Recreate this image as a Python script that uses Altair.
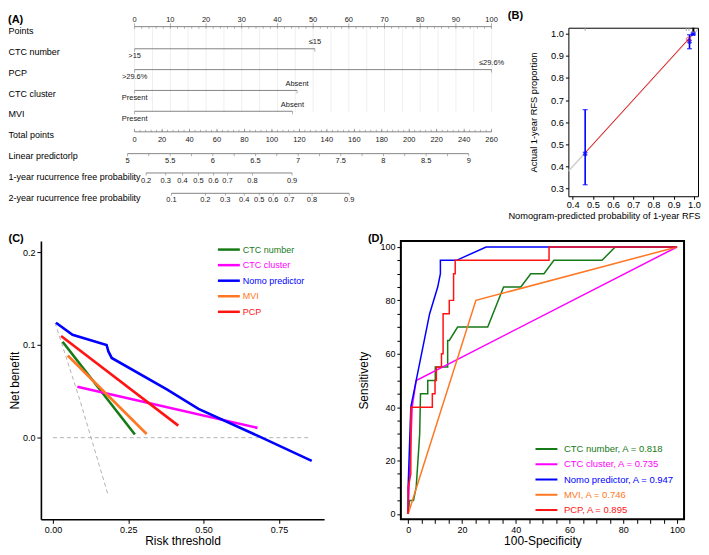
import altair as alt
import pandas as pd

FONT = "Liberation Sans"
NARROW = "Liberation Sans Narrow, Liberation Sans"
NOMO_INK = "#767676"

# ======================= (A) nomogram =======================
nomo_rows = ["Points", "CTC number", "PCP", "CTC cluster", "MVI", "Total points",
             "Linear predictorlp", "1-year rucurrence free probability",
             "2-year rucurrence free probability"]
points_label_values = [0, 10, 20, 30, 40, 50, 60, 70, 80, 90, 100]
points_minor_values = list(range(0, 101, 2))
points_grid_values = list(range(0, 101, 5))

var_rows = ["CTC number", "PCP", "CTC cluster", "MVI"]
var_max_points = [50.5, 100.0, 45.5, 44.2]
var_low_text = [">15", ">29.6%", "Present", "Present"]
var_high_text = ["≤15", "≤29.6%", "Absent", "Absent"]

total_label_values = list(range(0, 261, 20))
total_minor_values = list(range(0, 261, 4))
total_points_max = 260

lp_label_values = [5, 5.5, 6, 6.5, 7, 7.5, 8, 8.5, 9]
lp_minor_values = [5, 5.25, 5.5, 5.75, 6, 6.25, 6.5, 6.75, 7, 7.25, 7.5, 7.75, 8,
                   8.25, 8.5, 8.75, 9]
lp_ends = [5, 9]
lp_ends_points = [-2.0, 93.6]

p1_values = [0.2, 0.3, 0.4, 0.5, 0.6, 0.7, 0.8, 0.9]
p1_points = [3.2, 8.7, 13.4, 17.9, 22.1, 26.0, 33.0, 44.1]
p2_values = [0.1, 0.2, 0.3, 0.4, 0.5, 0.6, 0.7, 0.8, 0.9]
p2_points = [10.3, 19.8, 25.4, 30.7, 34.9, 38.8, 43.3, 49.7, 60.1]


def total_to_points(v):
    return v * 100.0 / total_points_max


def lp_to_points(v):
    a, b = lp_ends_points
    return a + (v - lp_ends[0]) * (b - a) / (lp_ends[1] - lp_ends[0])


XS_A = alt.Scale(domain=[-26.26, 100], nice=False, zero=False)
YS_A = alt.Scale(type="point", domain=nomo_rows, padding=0.14)
Y_A = alt.Y("row:N", scale=YS_A, sort=nomo_rows,
            axis=alt.Axis(title=None, domain=False, ticks=False, labelAlign="left",
                          labelPadding=33, labelFontSize=9, labelColor="black",
                          labelLimit=300, labelFont=FONT))


def xa(field):
    return alt.X(f"{field}:Q", scale=XS_A, axis=None)


def a_line(rows, x0, x1, off):
    df = pd.DataFrame({"row": rows, "x0": x0, "x1": x1})
    return alt.Chart(df).mark_rule(color=NOMO_INK, strokeWidth=0.9, yOffset=off).encode(
        x=xa("x0"), x2="x1", y=Y_A)


def a_ticks(rows, xs, size, off):
    df = pd.DataFrame({"row": rows, "x": xs})
    return alt.Chart(df).mark_tick(color=NOMO_INK, size=size, thickness=0.8, yOffset=off).encode(
        x=xa("x"), y=Y_A)


def a_text(rows, xs, texts, off, size=7.5):
    df = pd.DataFrame({"row": rows, "x": xs, "t": texts})
    return alt.Chart(df).mark_text(fontSize=size, color="#1a1a1a", yOffset=off, font=NARROW).encode(
        x=xa("x"), y=Y_A, text="t:N")


a_layers = []
grid_df = pd.DataFrame({"row": "Points", "row2": "MVI", "x": points_grid_values})
a_layers.append(alt.Chart(grid_df).mark_rule(color="#e6e6e6", strokeWidth=0.7, yOffset=-4,
                                             y2Offset=-2).encode(x=xa("x"), y=Y_A, y2="row2"))
# points scale
a_layers.append(a_line(["Points"], [0], [100], -4))
a_layers.append(a_ticks("Points", points_minor_values, 2, -3))
a_layers.append(a_ticks("Points", points_label_values, 3.5, -5.75))
a_layers.append(a_text("Points", points_label_values, [str(v) for v in points_label_values], -11))
# predictors
a_layers.append(a_line(var_rows, [0] * 4, var_max_points, -2.7))
a_layers.append(a_ticks(var_rows, [0] * 4, 3, -1.2))
a_layers.append(a_ticks(var_rows, var_max_points, 3, -1.2))
a_layers.append(a_text(var_rows, [0] * 4, var_low_text, 5))
a_layers.append(a_text(var_rows, var_max_points, var_high_text, -9))
# total points
a_layers.append(a_line(["Total points"], [0], [100], -3))
a_layers.append(a_ticks("Total points", [total_to_points(v) for v in total_minor_values], 2, -4))
a_layers.append(a_ticks("Total points", [total_to_points(v) for v in total_label_values], 3, -4.5))
a_layers.append(a_text("Total points", [total_to_points(v) for v in total_label_values],
                       [str(v) for v in total_label_values], 5))
# linear predictor
a_layers.append(a_line(["Linear predictorlp"], [lp_to_points(5)], [lp_to_points(9)], -2))
a_layers.append(a_ticks("Linear predictorlp", [lp_to_points(v) for v in lp_minor_values], 2.5, -0.75))
a_layers.append(a_text("Linear predictorlp", [lp_to_points(v) for v in lp_label_values],
                       [f"{v:g}" for v in lp_label_values], 5))
# 1-year
r1 = "1-year rucurrence free probability"
a_layers.append(a_line([r1], [p1_points[0]], [p1_points[-1]], -3.5))
a_layers.append(a_ticks(r1, p1_points, 2.5, -2.25))
a_layers.append(a_text(r1, p1_points, [f"{v:g}" for v in p1_values], 5))
# 2-year
r2 = "2-year rucurrence free probability"
a_layers.append(a_line([r2], [p2_points[0]], [p2_points[-1]], -4))
a_layers.append(a_ticks(r2, p2_points, 2.5, -2.75))
a_layers.append(a_text(r2, p2_points, [f"{v:g}" for v in p2_values], 2.5))

panel_a = alt.layer(*a_layers).properties(
    width=452, height=173,
    title=alt.TitleParams("(A)", anchor="start", fontSize=11, fontWeight="bold", font=FONT,
                          offset=-9.5, color="black"))

# ======================= (B) calibration =======================
cal_pred = [0.462, 0.978, 0.996]
cal_obs = [0.458, 0.965, 1.0]
cal_lo = [0.318, 0.932, 0.994]
cal_hi = [0.657, 0.995, 1.0]
cal_line_x = [0.462, 0.972, 0.996]
cal_line_y = [0.462, 0.975, 1.0]
cal_circle_x = [0.972]
cal_circle_y = [0.975]
rug_gray = [0.462, 0.962, 0.975]
rug_dark = [0.997]
ideal = [0.379, 1.02]


def bx(field):
    return alt.X(f"{field}:Q", scale=alt.Scale(domain=[0.379, 1.02], nice=False, zero=False),
                 axis=alt.Axis(values=[0.4, 0.5, 0.6, 0.7, 0.8, 0.9, 1.0], format=".1f",
                               title="Nomogram-predicted probability of 1-year RFS",
                               titleAlign="right", titleX=132,
                               tickSize=3, labelPadding=1, titlePadding=2, grid=False,
                               domain=False, tickColor="black", labelFontSize=9.3,
                               titleFontSize=9.3, titleFontWeight="normal"))


def by(field):
    return alt.Y(f"{field}:Q", scale=alt.Scale(domain=[0.266, 1.027], nice=False, zero=False),
                 axis=alt.Axis(values=[0.3, 0.4, 0.5, 0.6, 0.7, 0.8, 0.9, 1.0], format=".1f",
                               title="Actual 1-year RFS proportion",
                               tickSize=3, labelPadding=2, titlePadding=12, grid=False,
                               domain=False, tickColor="black", labelFontSize=9.3,
                               titleFontSize=9.3, titleFontWeight="normal"))


BLUE = "#0000ff"
b_ideal = alt.Chart(pd.DataFrame({"x": ideal, "y": ideal})).mark_line(
    color="#cfcfcf", strokeWidth=1.5, clip=True).encode(x=bx("x"), y=by("y"))
b_red = alt.Chart(pd.DataFrame({"x": cal_line_x, "y": cal_line_y})).mark_line(
    color="#ff0000", strokeWidth=0.9).encode(x=bx("x"), y=by("y"))
b_circle = alt.Chart(pd.DataFrame({"x": cal_circle_x, "y": cal_circle_y})).mark_point(
    color="#ff0000", size=16, strokeWidth=0.8, filled=False).encode(x=bx("x"), y=by("y"))
b_err = alt.Chart(pd.DataFrame({"x": cal_pred, "lo": cal_lo, "hi": cal_hi})).mark_rule(
    color=BLUE, strokeWidth=1.6).encode(x=bx("x"), y=by("lo"), y2="hi")
b_caps = alt.Chart(pd.DataFrame({"x": cal_pred + cal_pred, "y": cal_lo + cal_hi})).mark_tick(
    color=BLUE, orient="horizontal", size=5, thickness=1.3).encode(x=bx("x"), y=by("y"))
b_x = alt.Chart(pd.DataFrame({"x": cal_pred, "y": cal_obs})).mark_point(
    shape="cross", angle=45, size=28, filled=True, color=BLUE).encode(x=bx("x"), y=by("y"))
b_rug1 = alt.Chart(pd.DataFrame({"x": rug_gray})).mark_rule(color="#9a9a9a", strokeWidth=1).encode(
    x=bx("x"), y=alt.value(0), y2=alt.value(3))
b_rug2 = alt.Chart(pd.DataFrame({"x": rug_dark})).mark_rule(color="black", strokeWidth=2).encode(
    x=bx("x"), y=alt.value(0), y2=alt.value(4))

panel_b = alt.layer(b_ideal, b_red, b_err, b_caps, b_x, b_circle, b_rug1, b_rug2).properties(
    width=130, height=169,
    view=alt.ViewBackground(stroke="black", strokeWidth=1),
    title=alt.TitleParams("(B)", anchor="start", fontSize=11, fontWeight="bold", font=FONT,
                          offset=6, color="black"))

# ======================= (C) decision curves =======================
series = ["CTC number", "CTC cluster", "Nomo predictor", "MVI", "PCP"]
series_colors = ["#167a16", "#ff00ff", "#0000ff", "#ff7722", "#ff1414"]

dca_x = {
    "CTC number": [0.032, 0.272],
    "CTC cluster": [0.081, 0.679],
    "Nomo predictor": [0.01, 0.065, 0.178, 0.184, 0.195, 0.378, 0.483, 0.677, 0.859],
    "MVI": [0.049, 0.311],
    "PCP": [0.027, 0.416],
}
dca_y = {
    "CTC number": [0.1035, 0.0035],
    "CTC cluster": [0.055, 0.0106],
    "Nomo predictor": [0.124, 0.111, 0.100, 0.093, 0.086, 0.052, 0.031, 0.0025, -0.025],
    "MVI": [0.0886, 0.004],
    "PCP": [0.1096, 0.013],
}
treat_all_x = [0.007, 0.09, 0.184]
treat_all_y = [0.124, 0.040, -0.063]
treat_none_x = [0.0, 0.85]
treat_none_y = [0.0, 0.0]

c_rows = []
for s in series:
    for i, (xv, yv) in enumerate(zip(dca_x[s], dca_y[s])):
        c_rows.append({"series": s, "t": xv, "nb": yv, "i": i})
c_df = pd.DataFrame(c_rows)
ref_rows = []
for name, xs, ys in [("all", treat_all_x, treat_all_y), ("none", treat_none_x, treat_none_y)]:
    for i, (xv, yv) in enumerate(zip(xs, ys)):
        ref_rows.append({"ref": name, "t": xv, "nb": yv, "i": i})
ref_df = pd.DataFrame(ref_rows)


def label_color_expr(names, cols):
    expr = "'black'"
    for n, c in reversed(list(zip(names, cols))):
        expr = f"datum.value === '{n}' ? '{c}' : ({expr})"
    return expr


CX = alt.X("t:Q", scale=alt.Scale(domain=[-0.04, 0.9], nice=False, zero=False),
           axis=alt.Axis(values=[0, 0.25, 0.5, 0.75], format=".2f", title="Risk threshold",
                         grid=False, domainColor="black", domainWidth=1.6, tickColor="black",
                         tickSize=4, labelPadding=2, titlePadding=1, labelFontSize=9,
                         titleFontSize=12, titleFontWeight="normal"))
CY = alt.Y("nb:Q", scale=alt.Scale(domain=[-0.088, 0.212], nice=False, zero=False),
           axis=alt.Axis(values=[0, 0.1, 0.2], format=".1f", title="Net benefit",
                         grid=False, domainColor="black", domainWidth=1.6, tickColor="black",
                         tickSize=4, labelPadding=2, titlePadding=1, labelFontSize=9,
                         titleFontSize=12, titleFontWeight="normal"))

c_ref = alt.Chart(ref_df).mark_line(color="#b3b3b3", strokeWidth=1, strokeDash=[4, 3]).encode(
    x=CX, y=CY, detail="ref:N", order="i:Q")
c_lines = alt.Chart(c_df).mark_line(strokeWidth=2.6).encode(
    x=CX, y=CY, order="i:Q",
    color=alt.Color("series:N", scale=alt.Scale(domain=series, range=series_colors),
                    legend=alt.Legend(title=None, orient="none", legendX=181.5, legendY=1.5,
                                      symbolType="M-2,0H2", symbolSize=121,
                                      symbolStrokeWidth=2.5, labelFontSize=9,
                                      labelOffset=7, rowPadding=3.6,
                                      labelColor={"expr": label_color_expr(series, series_colors)})))
panel_c = alt.layer(c_ref, c_lines).properties(
    width=284, height=279,
    title=alt.TitleParams("(C)", anchor="start", fontSize=11, fontWeight="bold", font=FONT,
                          offset=-3, color="black"))

# ======================= (D) ROC =======================
roc_names = ["CTC number, A = 0.818", "CTC cluster, A = 0.735", "Nomo predictor, A = 0.947",
             "MVI, A = 0.746", "PCP, A = 0.895"]
roc_x = {
    roc_names[0]: [0, 0.5, 2, 3, 4.3, 4.6, 7.3, 7.3, 10.1, 10.1, 14.7, 14.7, 15.3, 18.4, 29.6,
                   35.5, 41.9, 45.6, 50.5, 54.2, 72.1, 77, 100],
    roc_names[1]: [0, 1.5, 3, 100],
    roc_names[2]: [0, 0, 1, 3, 8, 11, 12, 12, 18, 29, 100],
    roc_names[3]: [0, 25.2, 100],
    roc_names[4]: [0, 0, 1, 1, 9, 9, 10, 10, 10.5, 10.5, 12.4, 12.4, 13, 13, 15.3, 15.3, 16.9,
                   16.9, 17.5, 17.5, 52.4, 52.4, 100],
}
roc_y = {
    roc_names[0]: [0, 5, 5, 10, 30, 45, 45, 50, 50, 55, 55, 65, 65, 70, 70, 85, 85, 90, 90, 95,
                   95, 100, 100],
    roc_names[1]: [0, 40, 50, 100],
    roc_names[2]: [0, 10, 40, 50, 75, 85, 90, 95, 95, 100, 100],
    roc_names[3]: [0, 80, 100],
    roc_names[4]: [0, 10, 15, 40, 40, 45, 45, 50, 50, 55, 55, 60, 60, 75, 75, 80, 80, 90, 90, 95,
                   95, 100, 100],
}
d_rows = []
for s in roc_names:
    for i, (xv, yv) in enumerate(zip(roc_x[s], roc_y[s])):
        d_rows.append({"series": s, "fpr": xv, "sens": yv, "i": i})
d_df = pd.DataFrame(d_rows)

roc_ticks = list(range(0, 101, 5))
DX = alt.X("fpr:Q", scale=alt.Scale(domain=[-2.7, 102.6], nice=False, zero=False),
           axis=alt.Axis(values=roc_ticks, labelExpr="datum.value % 20 == 0 ? datum.label : ''",
                         title="100-Specificity", grid=False, domain=False, tickColor="black",
                         tickSize=4, labelPadding=2, titlePadding=1, labelFontSize=9,
                         titleFontSize=12, titleFontWeight="normal"))
DY = alt.Y("sens:Q", scale=alt.Scale(domain=[-2, 102.2], nice=False, zero=False),
           axis=alt.Axis(values=roc_ticks, labelExpr="datum.value % 20 == 0 ? datum.label : ''",
                         title="Sensitivety", grid=False, domain=False, tickColor="black",
                         tickSize=4, labelPadding=2, titlePadding=9, labelFontSize=9,
                         titleFontSize=12, titleFontWeight="normal"))
panel_d = alt.Chart(d_df).mark_line(strokeWidth=1.5).encode(
    x=DX, y=DY, order="i:Q",
    color=alt.Color("series:N", scale=alt.Scale(domain=roc_names, range=series_colors),
                    legend=alt.Legend(title=None, orient="none", legendX=139.5, legendY=202,
                                      symbolType="M-2,0H2", symbolSize=121,
                                      symbolStrokeWidth=2, labelFontSize=9.5,
                                      labelOffset=11, rowPadding=4.3, labelLimit=300,
                                      labelColor={"expr": label_color_expr(roc_names, series_colors)}))
).properties(
    width=284, height=279,
    view=alt.ViewBackground(stroke="black", strokeWidth=2),
    title=alt.TitleParams("(D)", anchor="start", fontSize=11, fontWeight="bold", font=FONT,
                          offset=-3, dx=10, color="black"))

row1 = alt.hconcat(panel_a, panel_b, spacing=2)
row2 = alt.hconcat(panel_c, panel_d, spacing=32).resolve_scale(color="independent")

chart = alt.vconcat(row1, row2, spacing=10).resolve_scale(color="independent").properties(
    padding=0
).configure(font=FONT).configure_view(stroke=None).configure_axis(
    labelFont=FONT, titleFont=FONT, labelColor="black", titleColor="black"
).configure_legend(labelFont=FONT)

chart.save("out.html", embed_options={"renderer": "svg", "actions": False})
